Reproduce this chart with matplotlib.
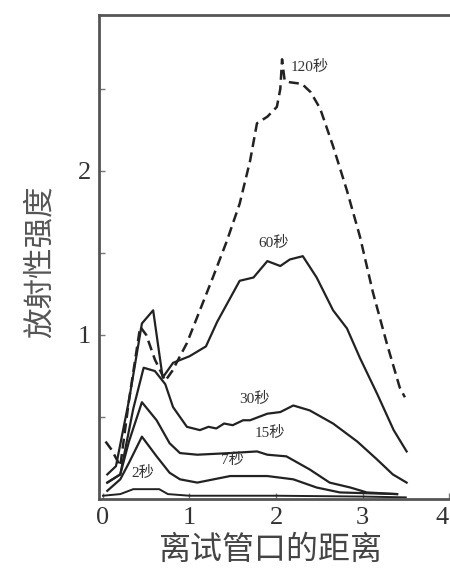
import numpy as np
import matplotlib.pyplot as plt

plt.rcParams['font.family'] = ['Noto Sans CJK SC', 'DejaVu Sans']

# 离试管口的距离 (x) vs 放射性强度 (y)
x_120 = [0.03, 0.1, 0.2, 0.3, 0.43, 0.5, 0.6, 0.72, 0.8, 0.97, 1.12, 1.27, 1.43, 1.58, 1.7,
         1.78, 1.9, 2.01, 2.05, 2.07, 2.1, 2.16, 2.3, 2.4, 2.51, 2.66, 2.82, 2.97, 3.12, 3.28,
         3.43, 3.49]
y_120 = [0.35, 0.3, 0.2, 0.6, 1.05, 1.0, 0.85, 0.72, 0.78, 0.95, 1.15, 1.35, 1.57, 1.8, 2.06,
         2.29, 2.33, 2.39, 2.5, 2.68, 2.55, 2.54, 2.53, 2.48, 2.38, 2.15, 1.88, 1.6, 1.26, 0.95,
         0.68, 0.62]

x_60 = [0.05, 0.15, 0.3, 0.45, 0.58, 0.69, 0.81, 1.0, 1.19, 1.32, 1.58, 1.74, 1.9, 2.05, 2.16,
        2.31, 2.47, 2.66, 2.82, 2.97, 3.17, 3.36, 3.51]
y_60 = [0.15, 0.2, 0.6, 1.07, 1.15, 0.74, 0.83, 0.87, 0.93, 1.08, 1.33, 1.35, 1.45, 1.42, 1.46,
        1.48, 1.35, 1.15, 1.04, 0.86, 0.64, 0.42, 0.29]

x_30 = [0.05, 0.2, 0.35, 0.47, 0.6, 0.72, 0.81, 0.97, 1.12, 1.22, 1.31, 1.4, 1.5, 1.62, 1.7,
        1.9, 2.05, 2.2, 2.39, 2.66, 2.94, 3.17, 3.35, 3.51]
y_30 = [0.1, 0.15, 0.55, 0.8, 0.78, 0.7, 0.56, 0.44, 0.42, 0.44, 0.43, 0.46, 0.45, 0.48, 0.48,
        0.52, 0.53, 0.57, 0.54, 0.46, 0.35, 0.24, 0.15, 0.1]

x_15 = [0.05, 0.2, 0.3, 0.45, 0.62, 0.77, 0.89, 1.09, 1.47, 1.78, 1.9, 2.12, 2.39, 2.62, 2.86,
        3.05, 3.4]
y_15 = [0.1, 0.15, 0.35, 0.59, 0.48, 0.34, 0.28, 0.27, 0.28, 0.29, 0.27, 0.26, 0.18, 0.1, 0.07,
        0.04, 0.03]

x_7 = [0.05, 0.2, 0.3, 0.45, 0.62, 0.77, 0.89, 1.09, 1.47, 1.9, 2.2, 2.47, 2.74, 3.4]
y_7 = [0.05, 0.12, 0.22, 0.38, 0.26, 0.16, 0.12, 0.1, 0.14, 0.14, 0.12, 0.07, 0.04, 0.03]

x_2 = [0.0, 0.2, 0.3, 0.35, 0.65, 0.75, 1.0, 2.0, 3.0, 3.5]
y_2 = [0.02, 0.03, 0.05, 0.06, 0.06, 0.03, 0.02, 0.02, 0.015, 0.01]

labels = ['120秒', '60秒', '30秒', '15秒', '7秒', '2秒']
label_x = [2.39, 1.97, 1.75, 1.93, 1.5, 0.46]
label_y = [2.63, 1.56, 0.61, 0.40, 0.24, 0.16]

fig = plt.figure(figsize=(4.5, 5.72), dpi=100)
ax = fig.add_axes([0.22, 0.1276, 0.8355, 0.8462])

ink = '#222222'
ax.plot(x_120, y_120, color=ink, lw=1.8, linestyle=(0, (4, 2.2)))
ax.plot(x_60, y_60, color=ink, lw=1.6)
ax.plot(x_30, y_30, color=ink, lw=1.6)
ax.plot(x_15, y_15, color=ink, lw=1.6)
ax.plot(x_7, y_7, color=ink, lw=1.6)
ax.plot(x_2, y_2, color=ink, lw=1.4)

for t, lx, ly in zip(labels, label_x, label_y):
    ax.text(lx, ly, t, fontsize=11, color='#333333', ha='center', va='center',
            family=['Liberation Serif', 'Noto Sans CJK SC'])

ax.set_xlim(-0.046, 4.3)
ax.set_ylim(0, 2.95)

for s in ax.spines.values():
    s.set_color('#555555')
    s.set_linewidth(2)

ax.set_xticks([0, 1, 2, 3, 4])
ax.set_xticklabels(['0', '1', '2', '3', '4'], family='Liberation Serif', fontsize=19,
                   color='#333333')
# keep the last label inside the figure edge
ax.get_xticklabels()[-1].set_horizontalalignment('right')
ax.set_yticks([0.5, 1, 1.5, 2, 2.5])
ax.set_yticklabels(['', '1', '', '2', ''], family='Liberation Serif', fontsize=19,
                   color='#333333')
ax.tick_params(direction='in', length=4, width=1, color='#777777', pad=6)

fig.text(40 / 450, 1 - 262 / 572, '放射性强度', rotation=90, fontsize=22, color='#555555',
         ha='center', va='center')
fig.text(271 / 450, 1 - 550 / 572, '离试管口的距离', fontsize=23, color='#444444',
         ha='center', va='center')

fig.savefig('out.png', dpi=100)
